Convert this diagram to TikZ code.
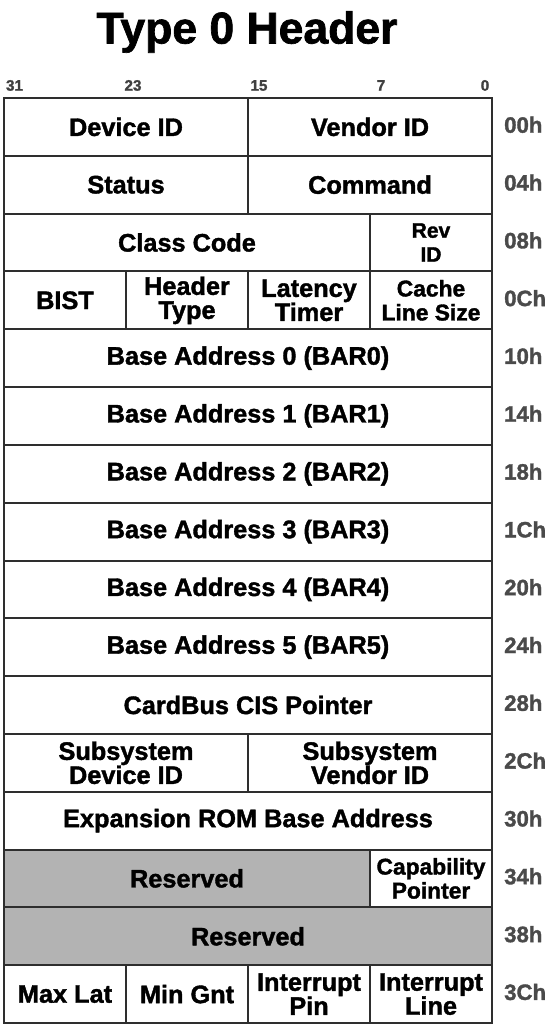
\documentclass[tikz,border=0pt]{standalone}
\usepackage{fontspec}
\setmainfont{Liberation Sans}
\newfontfamily\heavyfont[FakeBold=1.5]{Liberation Sans Bold}
\usepackage{tikz}
\usetikzlibrary{positioning}
\usepackage{xcolor}
\definecolor{linegray}{HTML}{2E2E2E}
\definecolor{resgray}{HTML}{B3B3B3}
\definecolor{offgray}{HTML}{4A4A4A}
\definecolor{bitgray}{HTML}{404040}
\tikzset{
  cell/.style={draw=linegray, line width=2pt, fill=white, minimum height=57.8pt, inner sep=0pt, align=center, font=\heavyfont\fontsize{25.3}{24}\selectfont},
  twoline/.style={cell},
  narrowline/.style={cell, font=\heavyfont\fontsize{22.8}{24}\selectfont},
  smallline/.style={cell, font=\heavyfont\fontsize{21}{24}\selectfont},
  resbox/.style={cell, fill=resgray},
  offset/.style={anchor=base west, inner sep=0pt, text=offgray, font=\heavyfont\fontsize{22.2}{24}\selectfont},
  bitno/.style={anchor=base, inner sep=0pt, text=bitgray, font=\heavyfont\fontsize{15.2}{17}\selectfont},
  title/.style={anchor=base, inner sep=0pt, font=\heavyfont\fontsize{44.5}{50}\selectfont}
}
\begin{document}
\begin{tikzpicture}[x=1pt, y=-1pt]
  \useasboundingbox (0,0) rectangle (552,1033);
  \node[title] (hdr) at (247,43.5) {Type 0 Header};
  \node[bitno] (b31) at (14.5,90.7) {31};
  \node[bitno] (b23) at (133,90.7) {23};
  \node[bitno] (b15) at (259,90.7) {15};
  \node[bitno] (b7) at (381,90.7) {7};
  \node[bitno] (b0) at (485,90.7) {0};
  \node[cell, minimum width=244pt] (devid) at (126,126.9) {Device ID};
  \node[cell, minimum width=244pt] (vendid) at (370,126.9) {Vendor ID};
  \node[cell, minimum width=244pt] (status) at (126,184.7) {Status};
  \node[cell, minimum width=244pt] (command) at (370,184.7) {Command};
  \node[cell, minimum width=366pt] (classcode) at (187,242.5) {Class Code};
  \node[smallline, minimum width=122pt] (revid) at (431,242.5) {Rev\\ID};
  \node[cell, minimum width=122pt] (bist) at (65,300.3) {BIST};
  \node[twoline, minimum width=122pt] (hdrtype) at (187,300.3) {Header\\Type};
  \node[twoline, minimum width=122pt] (lattimer) at (309,300.3) {Latency\\Timer};
  \node[narrowline, minimum width=122pt] (cacheline) at (431,300.3) {Cache\\Line Size};
  \node[cell, minimum width=488pt] (bar0) at (248,358.1) {Base Address 0 (BAR0)};
  \node[cell, minimum width=488pt] (bar1) at (248,415.9) {Base Address 1 (BAR1)};
  \node[cell, minimum width=488pt] (bar2) at (248,473.8) {Base Address 2 (BAR2)};
  \node[cell, minimum width=488pt] (bar3) at (248,531.6) {Base Address 3 (BAR3)};
  \node[cell, minimum width=488pt] (bar4) at (248,589.4) {Base Address 4 (BAR4)};
  \node[cell, minimum width=488pt] (bar5) at (248,647.2) {Base Address 5 (BAR5)};
  \node[cell, minimum width=488pt] (cardbus) at (248,705.0) {CardBus CIS Pointer};
  \node[twoline, minimum width=244pt] (subdev) at (126,762.8) {Subsystem\\Device ID};
  \node[twoline, minimum width=244pt] (subvend) at (370,762.8) {Subsystem\\Vendor ID};
  \node[cell, minimum width=488pt] (exprom) at (248,820.6) {Expansion ROM Base Address};
  \node[resbox, minimum width=366pt] (res34) at (187,878.4) {Reserved};
  \node[narrowline, minimum width=122pt] (capptr) at (431,878.4) {Capability\\Pointer};
  \node[resbox, minimum width=488pt] (res38) at (248,936.3) {Reserved};
  \node[cell, minimum width=122pt] (maxlat) at (65,994.1) {Max Lat};
  \node[cell, minimum width=122pt] (mingnt) at (187,994.1) {Min Gnt};
  \node[twoline, minimum width=122pt] (intpin) at (309,994.1) {Interrupt\\Pin};
  \node[twoline, minimum width=122pt] (intline) at (431,994.1) {Interrupt\\Line};
  \node[offset] (o00) at (504,132.7) {00h};
  \node[offset] (o04) at (504,190.5) {04h};
  \node[offset] (o08) at (504,248.3) {08h};
  \node[offset] (o0c) at (504,306.1) {0Ch};
  \node[offset] (o10) at (504,363.9) {10h};
  \node[offset] (o14) at (504,421.7) {14h};
  \node[offset] (o18) at (504,479.6) {18h};
  \node[offset] (o1c) at (504,537.4) {1Ch};
  \node[offset] (o20) at (504,595.2) {20h};
  \node[offset] (o24) at (504,653.0) {24h};
  \node[offset] (o28) at (504,710.8) {28h};
  \node[offset] (o2c) at (504,768.6) {2Ch};
  \node[offset] (o30) at (504,826.4) {30h};
  \node[offset] (o34) at (504,884.2) {34h};
  \node[offset] (o38) at (504,942.1) {38h};
  \node[offset] (o3c) at (504,999.9) {3Ch};
\end{tikzpicture}
\end{document}
